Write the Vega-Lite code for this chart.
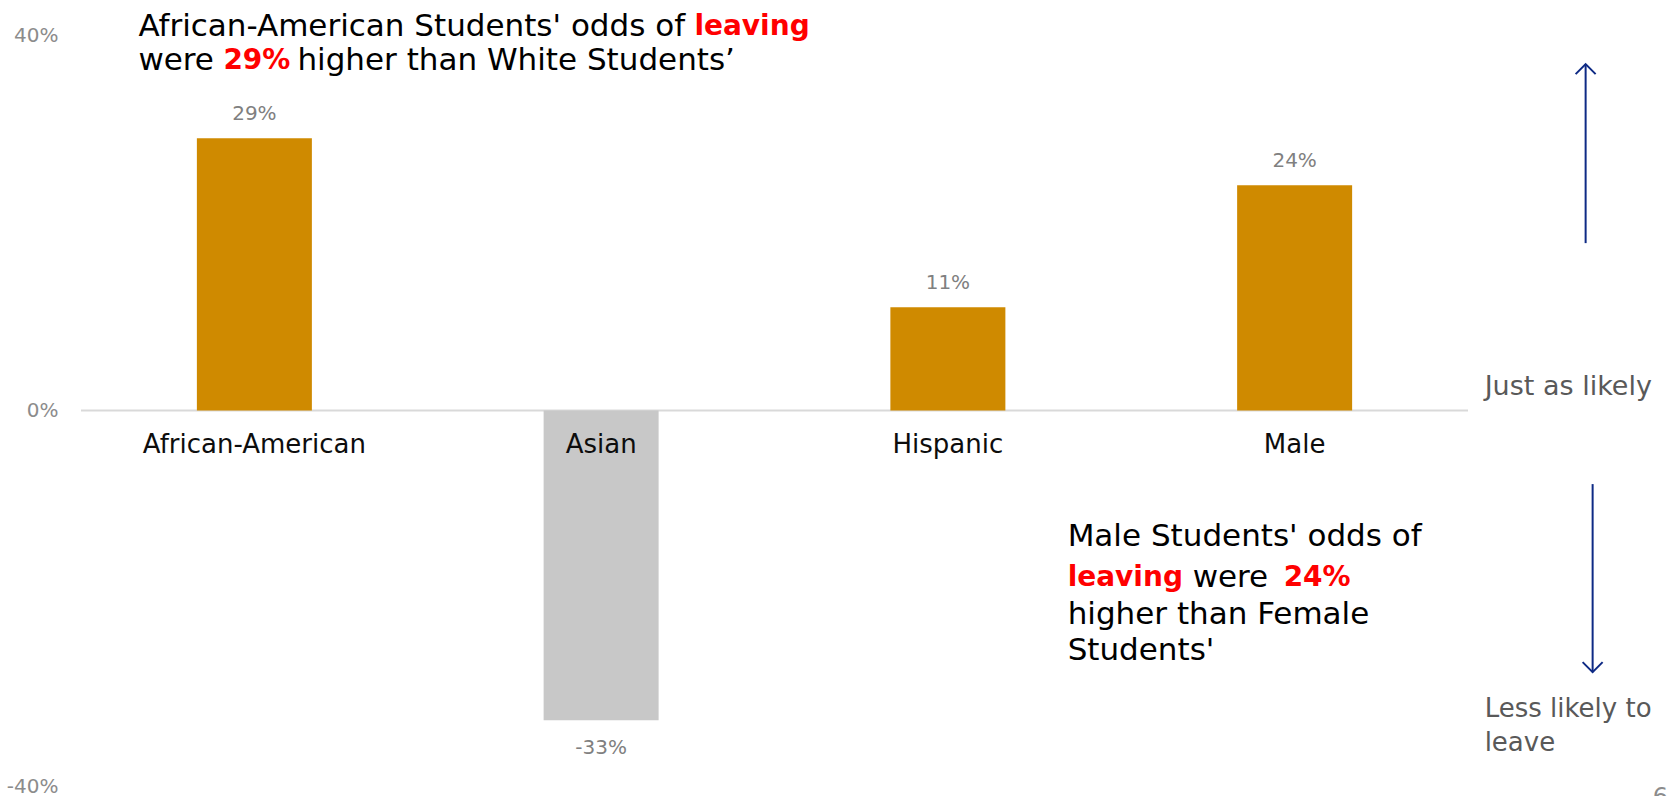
{
  "$schema": "https://vega.github.io/schema/vega-lite/v6.json",
  "autosize": {"type": "none"},
  "padding": {"left": 81, "top": 35, "right": 199, "bottom": 10},
  "width": 1387,
  "height": 751,
  "background": "white",
  "config": {"view": {"stroke": null}, "font": "DejaVu Sans"},
  "layer": [
    {
      "data": {"values": [{}]},
      "mark": {"type": "rule", "color": "#D9D9D9", "strokeWidth": 2},
      "encoding": {"y": {"datum": 0, "type": "quantitative"}}
    },
    {
      "data": {"name": "bars", "values": [
        {"group": "African-American", "value": 0.29},
        {"group": "Asian", "value": -0.33},
        {"group": "Hispanic", "value": 0.11},
        {"group": "Male", "value": 0.24}
      ]},
      "transform": [{"calculate": "replace(format(datum.value, '.0%'), '\u2212', '-')", "as": "label"}],
      "layer": [
        {
          "mark": {"type": "bar", "size": 115},
          "encoding": {
            "x": {"field": "group", "type": "nominal", "sort": null,
                  "scale": {"paddingInner": 0, "paddingOuter": 0}, "axis": null},
            "y": {"field": "value", "type": "quantitative",
                  "scale": {"domain": [-0.4, 0.4], "nice": false, "zero": false},
                  "axis": {"values": [-0.4, 0, 0.4], "format": ".0%", "title": null,
                           "labelExpr": "replace(datum.label, '\u2212', '-')",
                           "domain": false, "ticks": false, "grid": false,
                           "labelFontSize": 20, "labelColor": "#8C8C8C",
                           "labelPadding": 23, "labelFlush": false, "labelFont": "DejaVu Sans"}},
            "color": {"condition": {"test": "datum.value < 0", "value": "#C8C8C8"}, "value": "#CF8A00"}
          }
        },
        {
          "transform": [{"filter": "datum.value >= 0"}],
          "mark": {"type": "text", "baseline": "middle", "dy": -24, "fontSize": 20, "color": "#808080"},
          "encoding": {
            "x": {"field": "group", "type": "nominal", "sort": null},
            "y": {"field": "value", "type": "quantitative"},
            "text": {"field": "label"}
          }
        },
        {
          "transform": [{"filter": "datum.value < 0"}],
          "mark": {"type": "text", "baseline": "middle", "dy": 28, "fontSize": 20, "color": "#808080"},
          "encoding": {
            "x": {"field": "group", "type": "nominal", "sort": null},
            "y": {"field": "value", "type": "quantitative"},
            "text": {"field": "label"}
          }
        },
        {
          "mark": {"type": "text", "baseline": "middle", "dy": 34, "fontSize": 26, "color": "#0D0D0D"},
          "encoding": {
            "x": {"field": "group", "type": "nominal", "sort": null},
            "y": {"datum": 0, "type": "quantitative"},
            "text": {"field": "group"}
          }
        }
      ]
    },
    {
      "data": {"values": [{}]},
      "layer": [
        {"mark": {"type": "text", "text": "African-American Students' odds of", "align": "left", "baseline": "middle", "fontSize": 31, "color": "#000000", "dx": -116},
         "encoding": {"x": {"datum": "African-American"}, "y": {"datum": 0.4088}}},
        {"mark": {"type": "text", "text": "leaving", "align": "left", "baseline": "middle", "fontSize": 28, "fontWeight": "bold", "color": "#FF0000", "dx": 440},
         "encoding": {"x": {"datum": "African-American"}, "y": {"datum": 0.4088}}},
        {"mark": {"type": "text", "text": "were", "align": "left", "baseline": "middle", "fontSize": 31, "color": "#000000", "dx": -116},
         "encoding": {"x": {"datum": "African-American"}, "y": {"datum": 0.3726}}},
        {"mark": {"type": "text", "text": "29%", "align": "left", "baseline": "middle", "fontSize": 28, "fontWeight": "bold", "color": "#FF0000", "dx": -31},
         "encoding": {"x": {"datum": "African-American"}, "y": {"datum": 0.3726}}},
        {"mark": {"type": "text", "text": "higher than White Students’", "align": "left", "baseline": "middle", "fontSize": 31, "color": "#000000", "dx": 43},
         "encoding": {"x": {"datum": "African-American"}, "y": {"datum": 0.3726}}},

        {"mark": {"type": "text", "text": "Male Students' odds of", "align": "left", "baseline": "middle", "fontSize": 31, "color": "#000000", "dx": -227},
         "encoding": {"x": {"datum": "Male"}, "y": {"datum": -0.1349}}},
        {"mark": {"type": "text", "text": "leaving", "align": "left", "baseline": "middle", "fontSize": 28, "fontWeight": "bold", "color": "#FF0000", "dx": -227},
         "encoding": {"x": {"datum": "Male"}, "y": {"datum": -0.1785}}},
        {"mark": {"type": "text", "text": "were", "align": "left", "baseline": "middle", "fontSize": 31, "color": "#000000", "dx": -102},
         "encoding": {"x": {"datum": "Male"}, "y": {"datum": -0.1785}}},
        {"mark": {"type": "text", "text": "24%", "align": "left", "baseline": "middle", "fontSize": 28, "fontWeight": "bold", "color": "#FF0000", "dx": -11},
         "encoding": {"x": {"datum": "Male"}, "y": {"datum": -0.1785}}},
        {"mark": {"type": "text", "text": "higher than Female", "align": "left", "baseline": "middle", "fontSize": 31, "color": "#000000", "dx": -227},
         "encoding": {"x": {"datum": "Male"}, "y": {"datum": -0.2174}}},
        {"mark": {"type": "text", "text": "Students'", "align": "left", "baseline": "middle", "fontSize": 31, "color": "#000000", "dx": -227},
         "encoding": {"x": {"datum": "Male"}, "y": {"datum": -0.2559}}},

        {"mark": {"type": "text", "text": "Just as likely", "align": "left", "baseline": "middle", "fontSize": 27, "color": "#595959", "dx": 190},
         "encoding": {"x": {"datum": "Male"}, "y": {"datum": 0.0249}}},
        {"mark": {"type": "text", "text": "Less likely to", "align": "left", "baseline": "middle", "fontSize": 26, "color": "#595959", "dx": 190},
         "encoding": {"x": {"datum": "Male"}, "y": {"datum": -0.3181}}},
        {"mark": {"type": "text", "text": "leave", "align": "left", "baseline": "middle", "fontSize": 26, "color": "#595959", "dx": 190},
         "encoding": {"x": {"datum": "Male"}, "y": {"datum": -0.3543}}},
        {"mark": {"type": "text", "text": "6", "align": "left", "baseline": "top", "fontSize": 24, "color": "#8C8C8C", "dx": 358},
         "encoding": {"x": {"datum": "Male"}, "y": {"datum": -0.4}}},

        {"mark": {"type": "rule", "color": "#0E2A85", "strokeWidth": 2, "xOffset": 291},
         "encoding": {"x": {"datum": "Male"}, "y": {"datum": 0.369}, "y2": {"datum": 0.1783}}},
        {"mark": {"type": "point", "shape": "M-1,1L0,0L1,1", "size": 400, "filled": false, "stroke": "#0E2A85", "strokeWidth": 2, "opacity": 1, "xOffset": 291},
         "encoding": {"x": {"datum": "Male"}, "y": {"datum": 0.369}}},
        {"mark": {"type": "rule", "color": "#0E2A85", "strokeWidth": 2, "xOffset": 298},
         "encoding": {"x": {"datum": "Male"}, "y": {"datum": -0.0784}, "y2": {"datum": -0.2787}}},
        {"mark": {"type": "point", "shape": "M-1,-1L0,0L1,-1", "size": 400, "filled": false, "stroke": "#0E2A85", "strokeWidth": 2, "opacity": 1, "xOffset": 298},
         "encoding": {"x": {"datum": "Male"}, "y": {"datum": -0.2787}}}
      ]
    }
  ]
}
